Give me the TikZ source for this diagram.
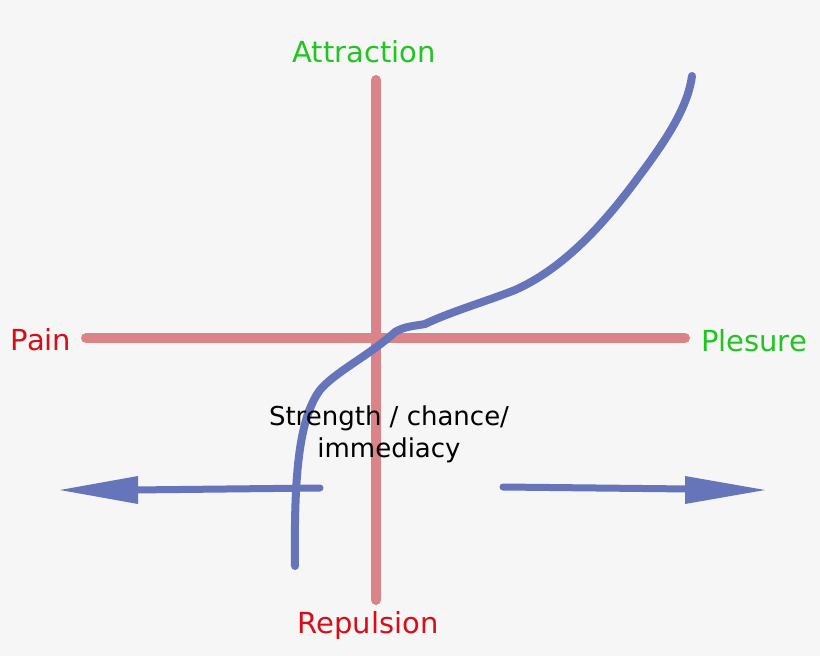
\documentclass[tikz,border=0pt]{standalone}
\usepackage{fontspec}
\setmainfont{DejaVu Sans}
\begin{document}
\begin{tikzpicture}[x=1pt,y=-1pt,
  axis/.style={line width=10pt,draw=axred,line cap=round},
  curve/.style={line width=8pt,draw=cblue,line cap=round,line join=round},
  lab/.style={font=\fontsize{29}{32}\selectfont},
  small/.style={font=\fontsize{26}{32}\selectfont,align=center}]
\definecolor{axred}{RGB}{218,132,137}
\definecolor{cblue}{RGB}{102,116,186}
\definecolor{gr}{RGB}{34,196,34}
\definecolor{rd}{RGB}{214,14,24}
\fill[fill={rgb,255:red,246;green,246;blue,246}] (0,0) rectangle (820,656);
\useasboundingbox (0,0) rectangle (820,656);
\coordinate (vt) at (376,80); \coordinate (vb) at (376,600);
\coordinate (hl) at (86,338); \coordinate (hr) at (685,338);
\draw[axis] (vt) -- (vb);
\draw[axis] (hl) -- (hr);
\coordinate (c0) at (295,566);
\draw[curve] (c0) .. controls (294,480) and (298,420) .. (320,390)
  .. controls (335,372) and (370,355) .. (395,332)
  .. controls (405,326) and (415,326) .. (425,324)
  .. controls (450,312) and (490,300) .. (515,290)
  .. controls (560,270) and (600,230) .. (640,175)
  .. controls (670,135) and (688,105) .. (692,76);
\coordinate (la) at (320,488); \coordinate (lb) at (132,490);
\draw[curve,line width=7pt] (la) -- (lb);
\fill[cblue] (60,490) -- (138,476) -- (138,504) -- cycle;
\coordinate (ra) at (503,487); \coordinate (rb) at (690,489);
\draw[curve,line width=7pt] (ra) -- (rb);
\fill[cblue] (765,490) -- (685,476) -- (685,504) -- cycle;
\node[lab,text=gr] (att) at (364,52) {Attraction};
\node[lab,text=rd] (rep) at (368,625) {Repulsion};
\node[lab,text=rd] (pain) at (41,340) {Pain};
\node[lab,text=gr] (ple) at (754,341) {Plesure};
\node[small] (str) at (389,434) {Strength / chance/\\immediacy};
\end{tikzpicture}
\end{document}
